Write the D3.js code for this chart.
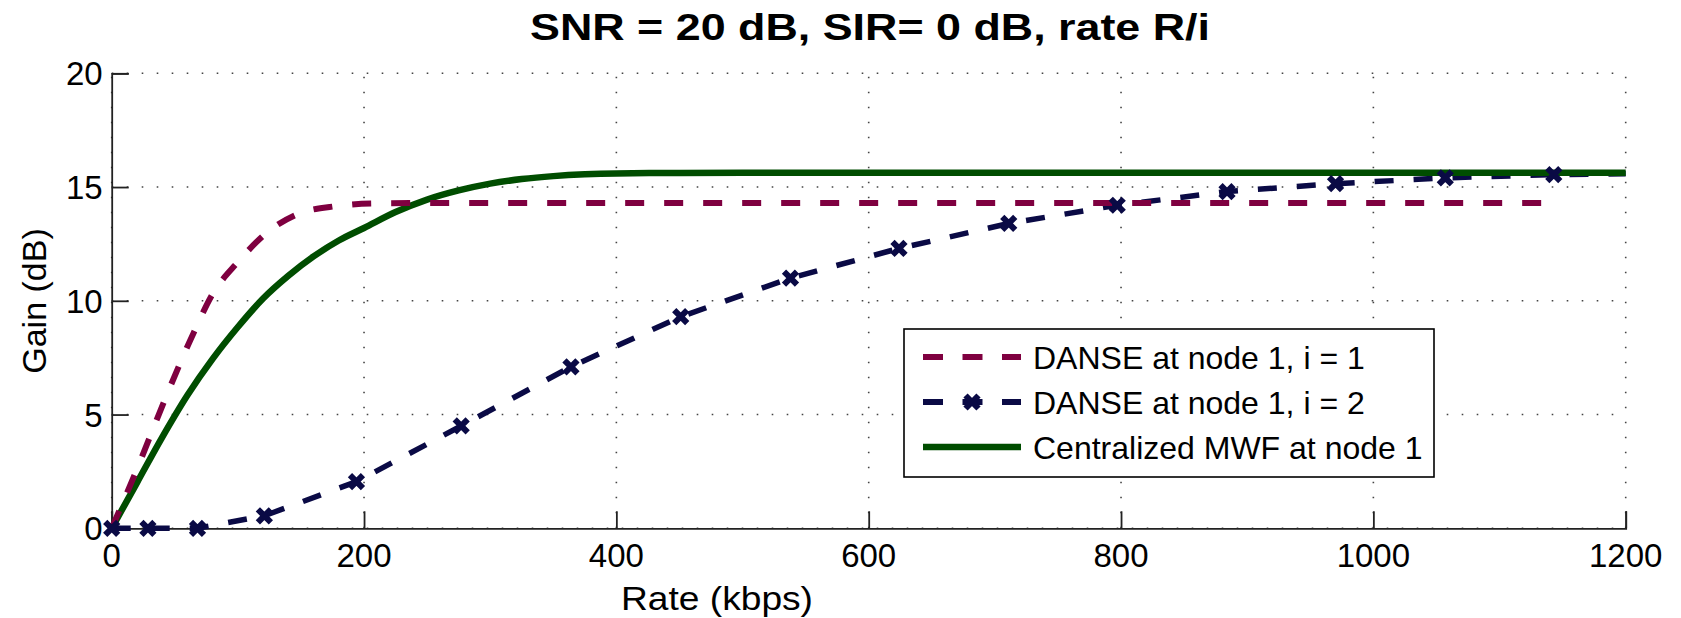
<!DOCTYPE html>
<html>
<head>
<meta charset="utf-8">
<script src="https://cdn.jsdelivr.net/npm/d3@7/dist/d3.min.js"></script>
<style>
  html, body { margin: 0; padding: 0; background: #fff; }
  svg { display: block; font-family: "Liberation Sans", Arial, sans-serif; }
</style>
</head>
<body>
<svg id="chart" width="1681" height="618"></svg>
<script>
// values
const xTicks = [0, 200, 400, 600, 800, 1000, 1200];
const yTicks = [0, 5, 10, 15, 20];

// DANSE at node 1, i = 1
const danse1Rate = [0, 20, 42, 65, 80, 100, 122, 149, 175, 207, 250, 1140];
const danse1Gain = [0, 2.6, 5.64, 8.6, 10.3, 11.7, 12.95, 13.85, 14.14, 14.28, 14.3, 14.3];

// DANSE at node 1, i = 2 (markers on every point but the tail)
const danse2Rate = [0, 28.7, 68, 121, 194, 277, 364, 451, 538, 624, 711, 797, 884, 970, 1057, 1143];
const danse2Gain = [0, 0, 0, 0.55, 2.05, 4.5, 7.1, 9.3, 11.0, 12.3, 13.4, 14.2, 14.8, 15.15, 15.4, 15.55];
const danse2TailRate = [1143, 1200];
const danse2TailGain = [15.55, 15.58];

// Centralized MWF at node 1
const mwfRate = [0, 20, 40, 60, 80, 100, 120, 140, 160, 180, 200, 225, 250, 275, 300, 325, 350, 375, 400, 450, 500, 1200];
const mwfGain = [0, 2.0, 4.0, 5.85, 7.45, 8.85, 10.1, 11.1, 11.95, 12.65, 13.2, 13.9, 14.45, 14.85, 15.15, 15.35, 15.48, 15.56, 15.6, 15.62, 15.63, 15.63];

const seriesNames = ["DANSE at node 1, i = 1", "DANSE at node 1, i = 2", "Centralized MWF at node 1"];
const seriesColors = ["#7f0040", "#0a0a45", "#004d00"];

const titleText = "SNR = 20 dB, SIR= 0 dB, rate R/i";
const xLabel = "Rate (kbps)";
const yLabel = "Gain (dB)";

const svg = d3.select("#chart");
const mLeft = 111.7, mRight = 1625.7, mTop = 73.3, mBottom = 528.3;

const x = d3.scaleLinear().domain([0, 1200]).range([mLeft, mRight]);
const y = d3.scaleLinear().domain([0, 20]).range([mBottom, mTop]);

// dotted grid
const grid = svg.append("g").attr("stroke", "#444").attr("stroke-width", 1.6)
    .attr("stroke-dasharray", "1.6,13.4");
grid.selectAll(".gx").data(xTicks).enter().append("line")
    .attr("x1", d => x(d)).attr("x2", d => x(d))
    .attr("y1", mBottom).attr("y2", mTop);
grid.selectAll(".gy").data(yTicks).enter().append("line")
    .attr("y1", d => y(d)).attr("y2", d => y(d))
    .attr("x1", mLeft).attr("x2", mRight);

// axes: inward ticks on left and bottom
const xAxis = d3.axisTop(x).tickValues(xTicks).tickSize(17).tickFormat("");
const yAxis = d3.axisRight(y).tickValues(yTicks).tickSize(17).tickFormat("");
const gx = svg.append("g").attr("transform", `translate(0,${mBottom})`).call(xAxis);
const gy = svg.append("g").attr("transform", `translate(${mLeft},0)`).call(yAxis);
[gx, gy].forEach(g => {
    g.select(".domain").attr("stroke", "#222").attr("stroke-width", 1.8);
    g.selectAll(".tick line").attr("stroke", "#222").attr("stroke-width", 1.8);
});

svg.append("g").selectAll("text").data(xTicks).enter().append("text")
    .attr("x", d => x(d)).attr("y", mBottom + 39)
    .attr("text-anchor", "middle").attr("font-size", 33).attr("fill", "#000")
    .text(d => d);
svg.append("g").selectAll("text").data(yTicks).enter().append("text")
    .attr("x", mLeft - 9).attr("y", d => y(d) + 12)
    .attr("text-anchor", "end").attr("font-size", 33).attr("fill", "#000")
    .text(d => d);

// curves
const pts = (xs, ys) => xs.map((v, i) => [v, ys[i]]);
const smooth = d3.line().x(d => x(d[0])).y(d => y(d[1])).curve(d3.curveMonotoneX);
const straight = d3.line().x(d => x(d[0])).y(d => y(d[1]));

const plot = svg.append("g").attr("fill", "none");

plot.append("path")
    .attr("d", straight(pts(danse2Rate, danse2Gain).concat(pts(danse2TailRate, danse2TailGain).slice(1))))
    .attr("stroke", seriesColors[1]).attr("stroke-width", 5.5)
    .attr("stroke-dasharray", "19,20");

plot.append("path")
    .attr("d", smooth(pts(mwfRate, mwfGain)))
    .attr("stroke", seriesColors[2]).attr("stroke-width", 6.5);

plot.append("path")
    .attr("d", smooth(pts(danse1Rate, danse1Gain)))
    .attr("stroke", seriesColors[0]).attr("stroke-width", 6)
    .attr("stroke-dasharray", "19,20");

const xMark = s => `M${-s},${-s}L${s},${s}M${-s},${s}L${s},${-s}`;
plot.selectAll(".mk").data(pts(danse2Rate, danse2Gain)).enter().append("path")
    .attr("transform", d => `translate(${x(d[0])},${y(d[1])})`)
    .attr("d", xMark(6.5))
    .attr("stroke", seriesColors[1]).attr("stroke-width", 6);

// legend
const lg = svg.append("g");
lg.append("rect").attr("x", 904).attr("y", 329).attr("width", 530).attr("height", 148)
    .attr("fill", "#fff").attr("stroke", "#000").attr("stroke-width", 1.6);
const rowY = [357, 402, 447];
seriesNames.forEach((name, i) => {
    const ln = lg.append("line").attr("x1", 923).attr("x2", 1021)
        .attr("y1", rowY[i]).attr("y2", rowY[i])
        .attr("stroke", seriesColors[i]).attr("stroke-width", i == 2 ? 6.5 : 6);
    if (i < 2) ln.attr("stroke-dasharray", "20,19.5");
    if (i == 1) {
        lg.append("path").attr("transform", `translate(972,${rowY[i]})`)
            .attr("d", xMark(6.5)).attr("stroke", seriesColors[1]).attr("stroke-width", 6);
    }
    lg.append("text").attr("x", 1033).attr("y", rowY[i] + 11.5)
        .attr("font-size", 32).attr("fill", "#000").text(name);
});

// labels
svg.append("text").attr("x", 870).attr("y", 40).attr("text-anchor", "middle")
    .attr("font-size", 36).attr("font-weight", "bold")
    .attr("textLength", 680).attr("lengthAdjust", "spacingAndGlyphs")
    .text(titleText);
svg.append("text").attr("x", 717).attr("y", 610).attr("text-anchor", "middle")
    .attr("font-size", 34).attr("textLength", 192).attr("lengthAdjust", "spacingAndGlyphs")
    .text(xLabel);
svg.append("text").attr("transform", "translate(46,301) rotate(-90)")
    .attr("text-anchor", "middle").attr("font-size", 34).text(yLabel);
</script>
</body>
</html>
